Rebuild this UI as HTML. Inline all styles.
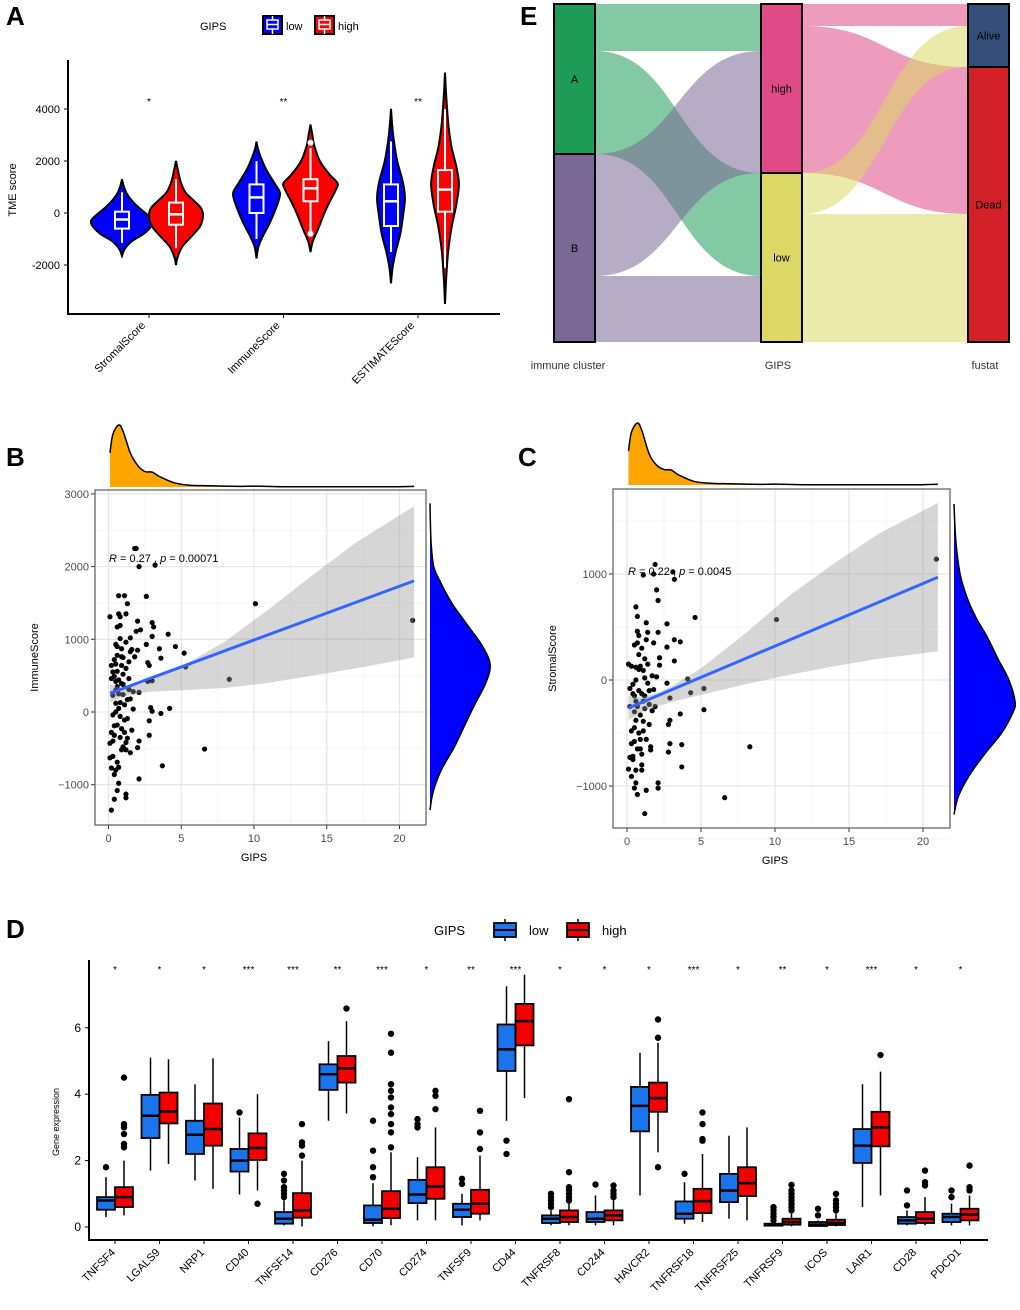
<!DOCTYPE html>
<html><head><meta charset="utf-8"><style>
html,body{margin:0;padding:0;background:#fff;}
svg{display:block;font-family:"Liberation Sans",Arial,sans-serif;}
</style></head><body>
<svg id="fig" width="1020" height="1310" viewBox="0 0 1020 1310" xmlns="http://www.w3.org/2000/svg">
<text x="6" y="25" font-size="26" font-weight="bold">A</text>
<text x="520" y="25" font-size="26" font-weight="bold">E</text>
<text x="6" y="466" font-size="26" font-weight="bold">B</text>
<text x="518" y="466" font-size="26" font-weight="bold">C</text>
<text x="6" y="938" font-size="26" font-weight="bold">D</text>
<g id="pA"></g>
<g id="pE"></g>
<g id="pB"></g>
<g id="pC"></g>
<g id="pD"></g>
</svg>
<script>
// ---------- Panel A data ----------
const aCategories = ["StromalScore","ImmuneScore","ESTIMATEScore"];
const aSig = ["*","**","**"];
const aTicks = [-2000,0,2000,4000];
const aLowProfiles = [
 [[-1650,0],[-1400,0.08],[-1100,0.3],[-800,0.7],[-500,0.95],[-300,1.0],[-100,0.85],[200,0.55],[500,0.3],[800,0.13],[1100,0.04],[1300,0]],
 [[-1750,0],[-1300,0.06],[-900,0.2],[-400,0.42],[100,0.6],[500,0.72],[800,0.75],[1200,0.55],[1700,0.3],[2200,0.12],[2500,0.04],[2750,0]],
 [[-2700,0],[-2100,0.05],[-1500,0.15],[-800,0.3],[0,0.4],[600,0.45],[1200,0.38],[2000,0.2],[2800,0.09],[3500,0.03],[4000,0]]
];
const aHighProfiles = [
 [[-2000,0],[-1700,0.05],[-1300,0.2],[-900,0.5],[-500,0.78],[-100,0.87],[200,0.8],[500,0.55],[800,0.3],[1200,0.15],[1600,0.07],[2000,0]],
 [[-1500,0],[-1100,0.07],[-600,0.25],[0,0.45],[500,0.65],[900,0.82],[1150,0.87],[1500,0.6],[2000,0.3],[2600,0.12],[3000,0.06],[3400,0]],
 [[-3500,0],[-2500,0.04],[-1500,0.1],[-500,0.22],[300,0.36],[1100,0.45],[1800,0.36],[2600,0.2],[3500,0.1],[4500,0.04],[5400,0]]
];
// [min,q1,median,q3,max]
const aLowBoxes = [[-1150,-600,-250,50,800],[-1000,0,600,1100,2000],[-1500,-500,450,1100,2750]];
const aHighBoxes = [[-1350,-450,-50,400,1300],[-800,450,950,1300,2500],[-2100,50,900,1650,4000]];
const aHighOutliers = [[],[2700,-800],[]];

// ---------- Panel E data ----------
const eLeftNodes = ["A","B"];
const eMidNodes = ["high","low"];
const eRightNodes = ["Alive","Dead"];
const eLeftFlows = [[47,103],[122,66]];   // rows: A,B ; cols: high,low
const eRightFlows = [[22,147],[41,128]];  // rows: high,low ; cols: Alive,Dead

// ---------- Panel B data ----------
const bPoints = [[0.1,1310],[0.2,640],[0.2,460],[0.3,550],[0.1,-430],[0.3,-40],[0.3,-400],[0.4,-320],[0.4,-190],[0.5,0],[0.5,120],[0.5,300],[0.5,420],[0.6,560],[0.6,780],[0.6,900],[0.6,1170],[0.7,1350],[0.7,1600],[0.8,1310],[0.8,1190],[0.8,1010],[0.9,870],[0.9,760],[0.9,640],[1.0,520],[1.0,380],[1.0,240],[1.1,100],[1.1,-110],[1.1,-280],[1.2,-420],[1.2,-520],[1.3,-360],[1.3,-90],[1.3,170],[1.4,460],[1.4,690],[1.5,830],[1.5,1020],[1.6,860],[1.6,-250],[1.7,40],[1.7,280],[1.8,760],[1.9,1110],[2.0,850],[2.1,270],[2.2,1130],[1.1,1600],[1.2,1350],[1.3,1490],[0.4,490],[0.5,660],[0.6,350],[0.7,440],[0.7,250],[0.8,130],[0.8,-60],[0.9,-230],[0.9,-520],[0.6,-690],[0.5,-800],[0.4,-860],[0.7,-760],[0.3,-610],[0.2,-280],[0.3,230],[0.4,720],[0.5,930],[1.0,750],[1.2,960],[1.4,310],[1.0,-480],[0.8,-350],[0.6,-180],[1.2,600],[0.9,390],[0.7,50],[1.5,180],
 [10.1,1490],[20.9,1260],[8.3,450],[6.6,-510],[3.7,-740],[5.2,810],[5.3,620],[4.6,900],[4.1,1070],[4.2,50],[3.6,-20],[3.2,2020],[2.1,2000],[1.8,2250],[1.9,2250],[2.6,1590],[2.0,1250],[3.0,1230],[3.1,1170],[3.0,1040],[3.5,870],[3.6,740],[2.6,930],[2.7,680],[2.8,640],[2.9,440],[2.7,420],[3.0,430],[2.9,60],[3.0,10],[2.8,-120],[2.8,-320],[2.1,-400],[1.5,-560],[2.0,-490],[2.1,-920],[1.2,-1130],[1.2,-1180],[0.6,-1080],[0.7,-980],[0.4,-1200],[0.2,-1350],[0.1,-630],[0.2,-770]];
const bFit = {intercept:250, slope:74};
const bBandX = [0.1,1,2,3,5,8,11,14,17,21];
const bBandLo = [130,210,260,280,300,330,400,500,600,750];
const bBandHi = [380,330,370,440,620,970,1410,1880,2330,2830];
const bTopDens = [[0.1,0.55],[0.3,0.85],[0.7,1.0],[1.0,0.9],[1.5,0.55],[2.0,0.35],[2.5,0.25],[3.0,0.24],[3.5,0.17],[4.5,0.07],[5.5,0.03],[7,0.02],[9,0.01],[10,0.015],[12,0.005],[15,0.003],[18,0.003],[20,0.005],[21,0.01]];
const bRightDens = [[-1350,0],[-1100,0.05],[-800,0.18],[-500,0.38],[-200,0.55],[100,0.72],[400,0.9],[650,0.97],[900,0.85],[1200,0.6],[1500,0.35],[1800,0.16],[2000,0.06],[2300,0.02],[2600,0.006],[2870,0]];
const bXTicks = [0,5,10,15,20];
const bYTicks = [-1000,0,1000,2000,3000];

// ---------- Panel C data ----------
const cPoints = [[0.1,150],[0.2,-80],[0.2,-250],[0.3,-480],[0.3,-600],[0.4,-720],[0.4,-750],[0.5,-580],[0.5,-450],[0.5,-300],[0.6,-200],[0.6,0],[0.6,120],[0.6,690],[0.7,600],[0.7,460],[0.7,350],[0.8,240],[0.8,100],[0.8,-100],[0.9,-330],[0.9,-560],[0.9,-650],[1.0,-850],[1.0,-800],[1.0,-700],[1.1,-480],[1.1,-390],[1.2,-150],[1.2,20],[1.2,200],[1.3,380],[1.3,540],[1.4,450],[1.4,-30],[1.5,-230],[1.5,-420],[1.6,-630],[1.6,-660],[1.7,-290],[1.7,40],[1.8,350],[1.8,-90],[1.9,-250],[2.0,30],[0.3,130],[0.4,-130],[0.4,-40],[0.5,330],[0.6,-380],[0.7,-250],[0.8,-500],[0.9,130],[1.0,300],[1.1,90],[1.2,-270],[1.3,-560],[1.0,-130],[0.2,-730],[0.3,-910],[0.6,-850],[0.7,-650],[1.1,-200],[1.4,150],[0.5,-150],[0.8,420],[1.5,-100],
 [20.9,1140],[10.1,570],[8.3,-630],[6.6,-1110],[5.2,-80],[5.2,-280],[4.6,590],[4.1,10],[4.3,-120],[3.7,-820],[3.7,-610],[3.6,360],[3.6,-320],[3.2,380],[3.2,180],[3.1,1020],[3.2,950],[2.8,-680],[2.9,-600],[2.8,-420],[2.9,-380],[2.9,-170],[2.7,530],[2.7,310],[2.7,-30],[1.9,1090],[1.8,1000],[1.1,990],[2.0,850],[2.1,750],[2.1,450],[2.2,210],[2.2,140],[2.1,-1020],[2.1,-970],[1.2,-1260],[1.3,-1040],[0.7,-1080],[0.6,-970],[0.5,-1020],[0.1,-840]];
const cFit = {intercept:-270, slope:59};
const cBandX = [0.1,1,2,3,5,8,11,14,17,21];
const cBandLo = [-380,-300,-250,-210,-140,-40,50,130,200,270];
const cBandHi = [-150,-160,-130,-60,110,440,800,1100,1380,1670];
const cTopDens = [[0.1,0.55],[0.3,0.85],[0.7,1.0],[1.0,0.88],[1.5,0.5],[2.0,0.32],[2.5,0.25],[3.0,0.24],[3.5,0.16],[4.5,0.06],[5.5,0.03],[7,0.02],[9,0.01],[10,0.015],[12,0.005],[15,0.003],[18,0.003],[20,0.005],[21,0.012]];
const cRightDens = [[-1270,0],[-1100,0.07],[-900,0.25],[-700,0.5],[-500,0.78],[-300,0.97],[-200,1.0],[0,0.9],[200,0.72],[400,0.55],[600,0.35],[800,0.2],[1000,0.1],[1200,0.05],[1400,0.02],[1660,0]];
const cXTicks = [0,5,10,15,20];
const cYTicks = [-1000,0,1000];

// ---------- Panel D data ----------
const dGenes = ["TNFSF4","LGALS9","NRP1","CD40","TNFSF14","CD276","CD70","CD274","TNFSF9","CD44","TNFRSF8","CD244","HAVCR2","TNFRSF18","TNFRSF25","TNFRSF9","ICOS","LAIR1","CD28","PDCD1"];
const dSig = ["*","*","*","***","***","**","***","*","**","***","*","*","*","***","*","**","*","***","*","*"];
const dLow = [[0.3,0.52,0.8,0.9,1.5],[1.7,2.68,3.35,3.98,5.1],[1.4,2.2,2.78,3.2,4.3],[0.98,1.67,2.0,2.35,3.3],[0.05,0.1,0.25,0.45,0.8],[3.2,4.13,4.6,4.9,5.6],[0.02,0.12,0.22,0.65,1.32],[0.2,0.72,0.98,1.42,2.1],[0.05,0.3,0.52,0.7,1.0],[3.2,4.7,5.35,6.1,7.25],[0.05,0.12,0.25,0.35,0.5],[0.05,0.15,0.25,0.45,0.95],[0.95,2.88,3.65,4.22,5.25],[0.1,0.25,0.4,0.77,1.35],[0.25,0.75,1.1,1.6,2.75],[0.02,0.04,0.07,0.1,0.15],[0.01,0.03,0.07,0.15,0.2],[0.6,1.93,2.45,2.95,4.3],[0.05,0.1,0.2,0.3,0.5],[0.05,0.15,0.3,0.4,0.7]];
const dHigh = [[0.35,0.6,0.9,1.2,2.0],[1.9,3.12,3.48,4.05,5.05],[1.15,2.45,2.95,3.72,5.08],[1.1,2.02,2.38,2.82,4.0],[0.02,0.28,0.5,1.02,2.0],[3.42,4.35,4.78,5.15,6.2],[0.05,0.27,0.55,1.08,2.25],[0.2,0.85,1.22,1.8,3.0],[0.2,0.4,0.7,1.12,2.15],[3.88,5.47,6.2,6.72,7.6],[0.05,0.15,0.3,0.5,0.75],[0.05,0.2,0.35,0.5,0.8],[2.25,3.47,3.88,4.35,5.55],[0.15,0.42,0.78,1.15,2.2],[0.2,0.93,1.32,1.8,3.0],[0.02,0.07,0.15,0.25,0.4],[0.02,0.06,0.12,0.22,0.4],[0.95,2.43,3.0,3.47,4.68],[0.05,0.12,0.25,0.45,0.9],[0.05,0.2,0.38,0.55,0.95]];
const dLowOut = [[1.8],[],[],[3.45],[0.9,1.0,1.1,1.2,1.4,1.6],[],[1.5,1.8,2.3,3.2],[3.0,3.1,3.25],[1.3,1.45],[2.2,2.6],[0.6,0.7,0.8,0.9,1.0],[1.28],[],[1.6],[],[0.2,0.3,0.4,0.5,0.6],[0.35,0.55],[],[0.65,1.1],[0.9,1.1]];
const dHighOut = [[2.4,2.5,2.8,3.0,3.1,4.5],[],[],[0.7],[2.15,2.45,2.55,3.1],[6.58],[2.4,2.85,3.1,3.4,3.6,3.9,4.1,4.3,5.25,5.82],[3.55,3.95,4.1],[2.35,2.85,3.5],[],[0.8,0.9,1.0,1.1,1.2,1.65,3.85],[0.9,1.0,1.1,1.25],[1.8,5.7,6.25],[2.6,2.65,3.1,3.45],[],[0.5,0.6,0.7,0.8,0.9,1.0,1.1,1.27],[0.5,0.6,0.7,0.8,1.0],[5.18],[1.25,1.35,1.7],[1.1,1.2,1.85]];
const dYTicks = [0,2,4,6];

// ---------- helpers ----------
const NS = "http://www.w3.org/2000/svg";
function mk(parent, tag, attrs, text){
  const el = document.createElementNS(NS, tag);
  for (const k in attrs) el.setAttribute(k, attrs[k]);
  if (text !== undefined) el.textContent = text;
  parent.appendChild(el);
  return el;
}
function smooth(pts){ // catmull-rom -> bezier
  let d = "M"+pts[0][0].toFixed(1)+","+pts[0][1].toFixed(1);
  for (let i=0;i<pts.length-1;i++){
    const p0=pts[Math.max(0,i-1)], p1=pts[i], p2=pts[i+1], p3=pts[Math.min(pts.length-1,i+2)];
    const c1=[p1[0]+(p2[0]-p0[0])/6, p1[1]+(p2[1]-p0[1])/6];
    const c2=[p2[0]-(p3[0]-p1[0])/6, p2[1]-(p3[1]-p1[1])/6];
    d += " C"+c1[0].toFixed(1)+","+c1[1].toFixed(1)+" "+c2[0].toFixed(1)+","+c2[1].toFixed(1)+" "+p2[0].toFixed(1)+","+p2[1].toFixed(1);
  }
  return d;
}
function smoothCont(pts){ return smooth(pts).replace(/^M/,"L"); }

// ---------- Panel A ----------
(function(){
  const g = document.getElementById("pA");
  const yA = v => 213 - v*52/2000;
  const xA = i => 149 + i*134.5;
  const K = 31, off = 27;
  mk(g,"line",{x1:68,y1:60,x2:68,y2:314,stroke:"#000","stroke-width":2});
  mk(g,"line",{x1:67,y1:314,x2:500,y2:314,stroke:"#000","stroke-width":2});
  aTicks.forEach(t=>{
    const tk = mk(g,"line",{x1:64,x2:68,y1:yA(t),y2:yA(t),stroke:"#000"});
    
    
    const lb = mk(g,"text",{x:60,y:yA(t)+4,"font-size":11,"text-anchor":"end"},String(t));
    
    
  });
  const yl = mk(g,"text",{transform:"translate(16,190) rotate(-90)","font-size":11,"text-anchor":"middle"},"TME score");
  
  
  function violin(cx, prof, box, color, outs){
    const right = prof.map(p=>[cx+p[1]*K, yA(p[0])]);
    const left = prof.slice().reverse().map(p=>[cx-p[1]*K, yA(p[0])]);
    const d = smooth(right)+" "+smoothCont(left)+" Z";
    const v = mk(g,"path",{d:d,fill:color,stroke:"#000","stroke-width":2});
    
    
    const bw = 7;
    mk(g,"line",{x1:cx,x2:cx,y1:yA(box[0]),y2:yA(box[4]),stroke:"#fff","stroke-width":2});
    const b = mk(g,"rect",{x:cx-bw,y:yA(box[3]),width:2*bw,height:yA(box[1])-yA(box[3]),fill:color,stroke:"#fff","stroke-width":2});
    
    
    mk(g,"line",{x1:cx-bw,x2:cx+bw,y1:yA(box[2]),y2:yA(box[2]),stroke:"#fff","stroke-width":2.5});
    outs.forEach(o=>{ mk(g,"circle",{cx:cx,cy:yA(o),r:3,fill:"#fff"}); });
  }
  aCategories.forEach((c,i)=>{
    violin(xA(i)-off, aLowProfiles[i], aLowBoxes[i], "#0000ff", []);
    violin(xA(i)+off, aHighProfiles[i], aHighBoxes[i], "#ff0000", aHighOutliers[i]);
    mk(g,"line",{x1:xA(i),x2:xA(i),y1:314,y2:318,stroke:"#000"});
    const s = mk(g,"text",{x:xA(i),y:105,"font-size":10,"text-anchor":"middle"},aSig[i]);
    
    
    const l = mk(g,"text",{transform:"translate("+(xA(i)-3)+",326) rotate(-45)","font-size":11,"text-anchor":"end"},c);
    
    
  });
  // legend
  mk(g,"text",{x:200,y:30,"font-size":11},"GIPS");
  [["low",263,"#0000ff"],["high",315,"#ff0000"]].forEach(([n,x,c])=>{
    const k = mk(g,"g",{});
    
    
    mk(k,"rect",{x:x,y:16,width:19,height:18,fill:c,stroke:"#000","stroke-width":2});
    mk(k,"line",{x1:x+9.5,x2:x+9.5,y1:16,y2:34,stroke:"#fff","stroke-width":1.5});
    mk(k,"rect",{x:x+4,y:20,width:11,height:9,fill:c,stroke:"#fff","stroke-width":1.5});
    mk(k,"line",{x1:x+4,x2:x+15,y1:24.5,y2:24.5,stroke:"#fff","stroke-width":1.5});
    mk(k,"text",{x:x+23,y:30,"font-size":11},n);
  });
})();

// ---------- Panel E ----------
(function(){
  const g = document.getElementById("pE");
  const top = 4, H = 338;
  const total = eLeftFlows.flat().reduce((a,b)=>a+b,0);
  const s = H/total;
  const cols = [554,761,968], bw = 41;
  const leftCol = ["#1e9c57","#7a6896"], midCol=["#e04a86","#dcd865"], rightCol=["#354f7a","#d42028"];
  const leftTot = eLeftFlows.map(r=>r[0]+r[1]);
  const midTot = [eLeftFlows[0][0]+eLeftFlows[1][0], eLeftFlows[0][1]+eLeftFlows[1][1]];
  const rightTot = [eRightFlows[0][0]+eRightFlows[1][0], eRightFlows[0][1]+eRightFlows[1][1]];
  function starts(arr){ let y=top; return arr.map(v=>{const r=y; y+=v*s; return r;}); }
  const lS = starts(leftTot), mS = starts(midTot), rS = starts(rightTot);
  function flow(x1,y1,x2,y2,h,color){
    const xm=(x1+x2)/2;
    const d="M"+x1+","+y1+" C"+xm+","+y1+" "+xm+","+y2+" "+x2+","+y2+" L"+x2+","+(y2+h)+" C"+xm+","+(y2+h)+" "+xm+","+(y1+h)+" "+x1+","+(y1+h)+" Z";
    const p = mk(g,"path",{d:d,fill:color,"fill-opacity":0.55});
    
    
  }
  // left -> mid
  const lOff = lS.slice(), mInOff = mS.slice();
  for (let i=0;i<2;i++) for (let j=0;j<2;j++){
    const h = eLeftFlows[i][j]*s;
    const ly = lS[i] + eLeftFlows[i].slice(0,j).reduce((a,b)=>a+b,0)*s;
    let my = mS[j]; for (let k=0;k<i;k++) my += eLeftFlows[k][j]*s;
    flow(cols[0]+bw, ly, cols[1], my, h, leftCol[i]);
  }
  for (let i=0;i<2;i++) for (let j=0;j<2;j++){
    const h = eRightFlows[i][j]*s;
    const my = mS[i] + eRightFlows[i].slice(0,j).reduce((a,b)=>a+b,0)*s;
    let ry = rS[j]; for (let k=0;k<i;k++) ry += eRightFlows[k][j]*s;
    flow(cols[1]+bw, my, cols[2], ry, h, midCol[i]);
  }
  function nodes(x, names, tots, st, colors){
    names.forEach((n,i)=>{
      const r = mk(g,"rect",{x:x,y:st[i],width:bw,height:tots[i]*s,fill:colors[i],stroke:"#000","stroke-width":2});
      
      
      mk(g,"text",{x:x+bw/2,y:st[i]+tots[i]*s/2+4,"font-size":11,"text-anchor":"middle"},n);
    });
  }
  nodes(cols[0], eLeftNodes, leftTot, lS, leftCol);
  nodes(cols[1], eMidNodes, midTot, mS, midCol);
  nodes(cols[2], eRightNodes, rightTot, rS, rightCol);
  [["immune cluster",568],["GIPS",778],["fustat",985]].forEach(([t,x])=>{
    const a = mk(g,"text",{x:x,y:369,"font-size":11,"text-anchor":"middle",fill:"#333"},t);
    
    
  });
})();

// ---------- Scatter panels ----------
function scatterPanel(gid, cfg){
  const g = document.getElementById(gid);
  const {x0,x1,y0,y1,xz,xk,yz,yk,xTicks,yTicks,pts,fit,bandX,bandLo,bandHi,topDens,rightDens,topBase,topH,rightBase,rightW,ylab,ann,annX,annY,yMinor} = cfg;
  const X = v => xz + v*xk, Y = v => yz - v*yk;
  mk(g,"rect",{x:x0,y:y0,width:x1-x0,height:y1-y0,fill:"#fff"});
  // minor grid
  [2.5,7.5,12.5,17.5].forEach(v=>mk(g,"line",{x1:X(v),x2:X(v),y1:y0,y2:y1,stroke:"#f2f2f2","stroke-width":0.8}));
  yMinor.forEach(v=>mk(g,"line",{x1:x0,x2:x1,y1:Y(v),y2:Y(v),stroke:"#f2f2f2","stroke-width":0.8}));
  xTicks.forEach(t=>{
    mk(g,"line",{x1:X(t),x2:X(t),y1:y0,y2:y1,stroke:"#e6e6e6","stroke-width":1.3});
    mk(g,"line",{x1:X(t),x2:X(t),y1:y1,y2:y1+4,stroke:"#333"});
    const l = mk(g,"text",{x:X(t),y:y1+17,"font-size":11,"text-anchor":"middle",fill:"#4d4d4d"},String(t));
    
    
  });
  yTicks.forEach(t=>{
    mk(g,"line",{x1:x0,x2:x1,y1:Y(t),y2:Y(t),stroke:"#e6e6e6","stroke-width":1.3});
    mk(g,"line",{x1:x0-4,x2:x0,y1:Y(t),y2:Y(t),stroke:"#333"});
    const l = mk(g,"text",{x:x0-6,y:Y(t)+4,"font-size":11,"text-anchor":"end",fill:"#4d4d4d"},t<0?"\u2212"+(-t):String(t));
    
    
  });
  pts.forEach(p=>{
    const c = mk(g,"circle",{cx:X(p[0]),cy:Y(p[1]),r:2.6,fill:"#000"});
    
    
  });
  let d = "M"+bandX.map((v,i)=>X(v)+","+Y(bandHi[i])).join(" L");
  d += " L"+bandX.slice().reverse().map((v,i)=>X(v)+","+Y(bandLo[bandX.length-1-i])).join(" L")+" Z";
  const band = mk(g,"path",{d:d,fill:"#999","fill-opacity":0.4});
  
  
  const xa = bandX[0], xb = bandX[bandX.length-1];
  const ln = mk(g,"line",{x1:X(xa),y1:Y(fit.intercept+fit.slope*xa),x2:X(xb),y2:Y(fit.intercept+fit.slope*xb),stroke:"#3366ff","stroke-width":3});
  
  
  mk(g,"rect",{x:x0,y:y0,width:x1-x0,height:y1-y0,fill:"none",stroke:"#595959","stroke-width":1.2});
  const an = mk(g,"text",{x:annX,y:annY,"font-size":11},"");
  
  
  mk(an,"tspan",{"font-style":"italic"},"R");
  mk(an,"tspan",{},ann[0]+" , ");
  mk(an,"tspan",{"font-style":"italic"},"p");
  mk(an,"tspan",{},ann[1]);
  const xt = mk(g,"text",{x:(X(0)+X(20))/2,y:y1+36,"font-size":11,"text-anchor":"middle"},"GIPS");
  
  
  const yt = mk(g,"text",{transform:"translate("+(x0-57)+","+((y0+y1)/2)+") rotate(-90)","font-size":11,"text-anchor":"middle"},ylab);
  
  
  // top density
  const tp = topDens.map(p=>[X(p[0]), topBase - p[1]*topH]);
  let td = "M"+X(topDens[0][0])+","+topBase+" L"+tp[0][0]+","+tp[0][1]+" "+smoothCont(tp)+" L"+X(topDens[topDens.length-1][0])+","+topBase+" Z";
  const tdp = mk(g,"path",{d:td,fill:"#ffa500"});
  
  
  mk(g,"path",{d:smooth(tp),fill:"none",stroke:"#000","stroke-width":1.5});
  const rp = rightDens.map(p=>[rightBase + p[1]*rightW, Y(p[0])]);
  let rd = "M"+rightBase+","+Y(rightDens[0][0])+" "+smoothCont(rp)+" L"+rightBase+","+Y(rightDens[rightDens.length-1][0])+" Z";
  const rdp = mk(g,"path",{d:rd,fill:"#0000ff"});
  
  
  mk(g,"path",{d:smooth(rp),fill:"none",stroke:"#000","stroke-width":1.5});
}
scatterPanel("pB",{x0:95,x1:426,y0:490,y1:825,xz:108.5,xk:14.55,yz:712,yk:0.0727,xTicks:bXTicks,yTicks:bYTicks,yMinor:[-1500,-500,500,1500,2500],pts:bPoints,fit:bFit,bandX:bBandX,bandLo:bBandLo,bandHi:bBandHi,topDens:bTopDens,rightDens:bRightDens,topBase:487,topH:62,rightBase:430,rightW:62,ylab:"ImmuneScore",ann:[" = 0.27"," = 0.00071"],annX:109,annY:562});
scatterPanel("pC",{x0:613,x1:950,y0:489,y1:828,xz:627,xk:14.8,yz:680,yk:0.106,xTicks:cXTicks,yTicks:cYTicks,yMinor:[-1500,-500,500,1500],pts:cPoints,fit:cFit,bandX:cBandX,bandLo:cBandLo,bandHi:cBandHi,topDens:cTopDens,rightDens:cRightDens,topBase:485,topH:62,rightBase:954,rightW:61,ylab:"StromalScore",ann:[" = 0.22"," = 0.0045"],annX:628,annY:575});

// ---------- Panel D ----------
(function(){
  const g = document.getElementById("pD");
  const Y = v => 1227 - v*33.2;
  const X = i => 115 + i*44.5;
  const hw = 9, off = 9;
  mk(g,"line",{x1:89,y1:960,x2:89,y2:1240,stroke:"#000","stroke-width":2});
  mk(g,"line",{x1:88,y1:1240,x2:988,y2:1240,stroke:"#000","stroke-width":2});
  dYTicks.forEach(t=>{
    mk(g,"line",{x1:85,x2:89,y1:Y(t),y2:Y(t),stroke:"#000"});
    const l = mk(g,"text",{x:81,y:Y(t)+4,"font-size":12,"text-anchor":"end"},String(t));
    
    
  });
  const yt = mk(g,"text",{transform:"translate(59,1122) rotate(-90)","font-size":9,"text-anchor":"middle"},"Gene expression");
  
  
  function box(cx, b, outs, color){
    mk(g,"line",{x1:cx,x2:cx,y1:Y(b[0]),y2:Y(b[4]),stroke:"#000","stroke-width":1.5});
    const r = mk(g,"rect",{x:cx-hw,y:Y(b[3]),width:2*hw,height:Math.max(1,Y(b[1])-Y(b[3])),fill:color,stroke:"#000","stroke-width":1.8});
    
    
    mk(g,"line",{x1:cx-hw,x2:cx+hw,y1:Y(b[2]),y2:Y(b[2]),stroke:"#000","stroke-width":2.5});
    outs.forEach(o=>{
      const c = mk(g,"circle",{cx:cx,cy:Y(o),r:3.2,fill:"#000"});
      
      
    });
  }
  dGenes.forEach((gn,i)=>{
    box(X(i)-off, dLow[i], dLowOut[i], "#1a74ec");
    box(X(i)+off, dHigh[i], dHighOut[i], "#f50000");
    mk(g,"line",{x1:X(i),x2:X(i),y1:1240,y2:1244,stroke:"#000"});
    const s = mk(g,"text",{x:X(i),y:973,"font-size":10,"text-anchor":"middle"},dSig[i]);
    
    
    const l = mk(g,"text",{transform:"translate("+(X(i)+1)+",1253) rotate(-45)","font-size":11,"text-anchor":"end"},gn);
    
    
  });
  mk(g,"text",{x:434,y:935,"font-size":13},"GIPS");
  [["low",494,"#1a74ec"],["high",567,"#f50000"]].forEach(([n,x,c])=>{
    const k = mk(g,"g",{});
    
    
    mk(k,"line",{x1:x+11,x2:x+11,y1:919,y2:941,stroke:"#000","stroke-width":1.5});
    mk(k,"rect",{x:x,y:923,width:22,height:14,fill:c,stroke:"#000","stroke-width":1.8});
    mk(k,"line",{x1:x,x2:x+22,y1:930,y2:930,stroke:"#000","stroke-width":2});
    mk(k,"text",{x:x+35,y:935,"font-size":13},n);
  });
})();
</script>
</body></html>
